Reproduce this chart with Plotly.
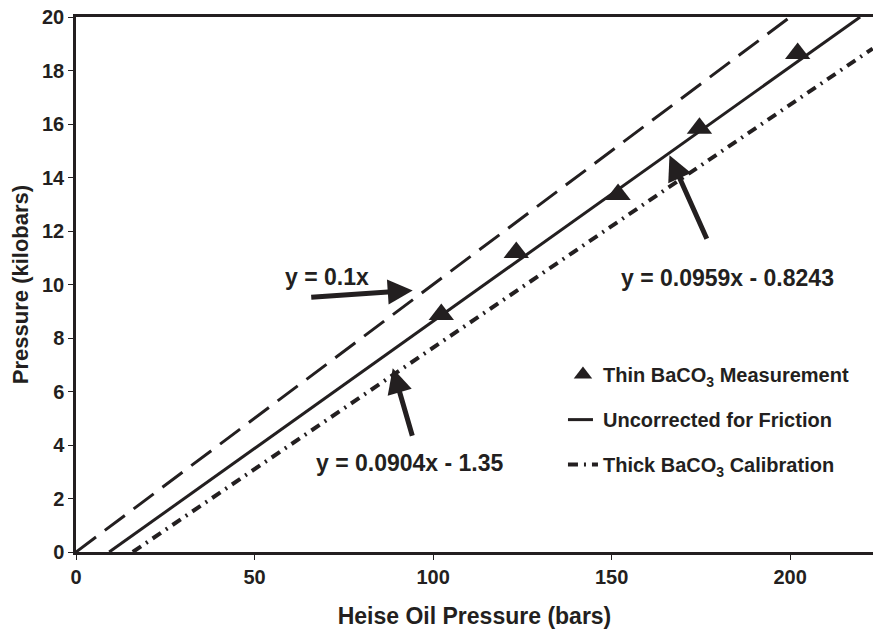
import plotly.graph_objects as go

# Data
thin_x = [102.3, 123.3, 151.8, 174.6, 202.1]
thin_y = [8.88, 11.2, 13.36, 15.84, 18.64]

fit_x = [9.3, 219.6]          # y = 0.0959x - 0.8243 (drawn)
fit_y = [0.0, 20.0]

uncorr_x = [0.0, 200.0]       # y = 0.1x
uncorr_y = [0.0, 20.0]

thick_x = [15.9, 223.1]       # y = 0.0904x - 1.35
thick_y = [0.0, 18.82]

x_ticks = [0, 50, 100, 150, 200]
y_ticks = [0, 2, 4, 6, 8, 10, 12, 14, 16, 18, 20]

INK = "#231f20"
FONT = "Liberation Sans"

fig = go.Figure()

fig.add_trace(go.Scatter(x=fit_x, y=fit_y, mode="lines",
                         line=dict(color=INK, width=3), showlegend=False,
                         hoverinfo="skip"))
fig.add_trace(go.Scatter(x=thin_x, y=thin_y, mode="markers",
                         name="Thin BaCO<sub>3</sub> Measurement",
                         legendgroup="a",
                         marker=dict(symbol="triangle-up", size=22, color=INK)))
fig.add_trace(go.Scatter(x=uncorr_x, y=uncorr_y, mode="lines",
                         name="Uncorrected for Friction",
                         legendgroup="b",
                         line=dict(color=INK, width=3, dash="25px,11px")))
fig.add_trace(go.Scatter(x=thick_x, y=thick_y, mode="lines",
                         name="Thick BaCO<sub>3</sub> Calibration",
                         legendgroup="c",
                         line=dict(color=INK, width=4, dash="10px,6px,2px,6px")))

# Equation labels
labels = [
    dict(text="y = 0.1x", x=70.2, y=10.27),
    dict(text="y = 0.0959x - 0.8243", x=182.5, y=10.23),
    dict(text="y = 0.0904x - 1.35", x=93.4, y=3.31),
]
for lb in labels:
    fig.add_annotation(x=lb["x"], y=lb["y"], text=lb["text"], showarrow=False,
                       font=dict(family=FONT, size=23, color=INK, weight="bold"),
                       xanchor="center", yanchor="middle")

# Arrows (head in data coords, tail offset in px)
arrows = [
    dict(x=94.3, y=9.78, ax=-103, ay=7),
    dict(x=166.2, y=14.83, ax=38, ay=85),
    dict(x=88.7, y=6.87, ax=20, ay=69),
]
for ar in arrows:
    fig.add_annotation(x=ar["x"], y=ar["y"], ax=ar["ax"], ay=ar["ay"], text="",
                       showarrow=True, arrowhead=2, arrowsize=1,
                       arrowwidth=5, arrowcolor=INK, standoff=0)

fig.update_xaxes(range=[0, 223.2], tickvals=x_ticks, ticks="outside", ticklen=5,
                 tickwidth=1, tickcolor=INK, showline=True, linecolor=INK,
                 linewidth=2.5, mirror=True, showgrid=False, zeroline=False,
                 tickfont=dict(family=FONT, size=20, color=INK, weight="bold"),
                 title=dict(text="Heise Oil Pressure (bars)", standoff=22,
                            font=dict(family=FONT, size=23, color=INK, weight="bold")))
fig.update_yaxes(range=[0, 20], tickvals=y_ticks, ticks="outside", ticklen=5,
                 tickwidth=1, tickcolor=INK, showline=True, linecolor=INK,
                 linewidth=2.5, mirror=False, showgrid=False, zeroline=False,
                 tickfont=dict(family=FONT, size=20, color=INK, weight="bold"),
                 title=dict(text="Pressure (kilobars)", standoff=8,
                            font=dict(family=FONT, size=22, color=INK, weight="bold")))

fig.update_layout(
    width=873, height=633,
    margin=dict(l=76, r=0, t=17, b=81),
    plot_bgcolor="white", paper_bgcolor="white",
    font=dict(family=FONT, color=INK, weight="bold"),
    legend=dict(x=0.611, y=0.368, xanchor="left", yanchor="top",
                font=dict(family=FONT, size=20, color=INK, weight="bold"),
                tracegroupgap=16, bgcolor="rgba(0,0,0,0)"),
)

fig.write_html("out.html")
